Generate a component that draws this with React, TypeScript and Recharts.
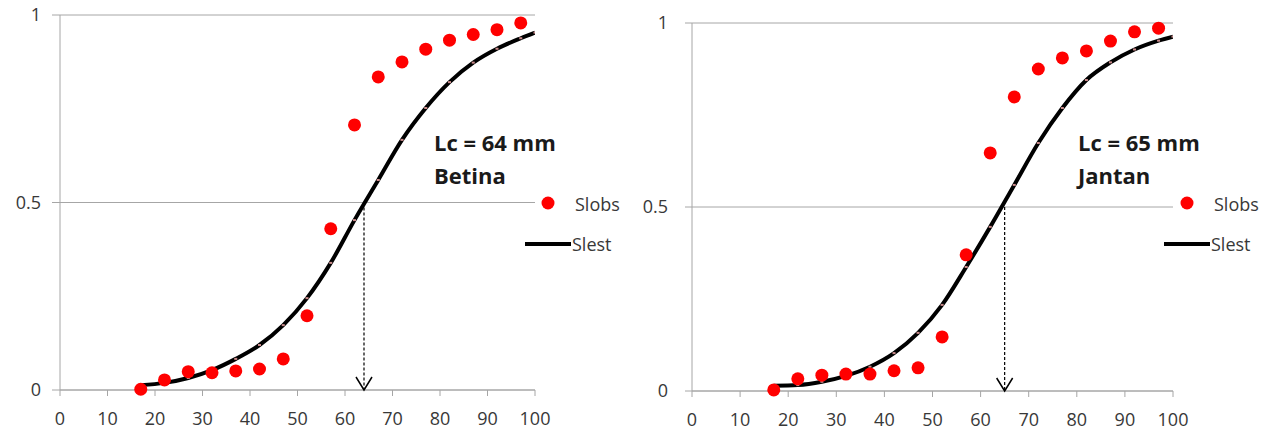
import React from 'react';
import {
  ComposedChart, Line, Scatter, XAxis, YAxis, CartesianGrid, ReferenceLine, ReferenceDot, Legend, Customized,
} from 'recharts';

const xObs = [17, 22, 27, 32, 37, 42, 47, 52, 57, 62, 67, 72, 77, 82, 87, 92, 97];
const xEst = [17, 22, 27, 32, 37, 42, 47, 52, 57, 62, 67, 72, 77, 82, 87, 92, 97, 100];

const betinaObs = [0.002, 0.027, 0.049, 0.046, 0.051, 0.056, 0.083, 0.198, 0.43, 0.707, 0.835, 0.875, 0.909, 0.933, 0.948, 0.961, 0.979];
const betinaEst = [0.013, 0.019, 0.032, 0.053, 0.083, 0.12, 0.173, 0.245, 0.339, 0.453, 0.56, 0.667, 0.752, 0.821, 0.873, 0.91, 0.938, 0.953];

const jantanObs = [0.003, 0.033, 0.043, 0.046, 0.046, 0.055, 0.063, 0.147, 0.37, 0.647, 0.799, 0.875, 0.905, 0.924, 0.951, 0.976, 0.986];
const jantanEst = [0.014, 0.016, 0.025, 0.041, 0.066, 0.103, 0.158, 0.234, 0.337, 0.446, 0.56, 0.674, 0.769, 0.845, 0.893, 0.928, 0.952, 0.963];

const xTicks = [0, 10, 20, 30, 40, 50, 60, 70, 80, 90, 100];
const yTicks = [0, 0.5, 1];

const FONT = '"Open Sans", "DejaVu Sans", sans-serif';
const GRID = '#a6a6a6';
const TXT = '#383838';

const toPts = (xs: number[], ys: number[]) => xs.map((x, i) => ({ x, y: ys[i] }));

function LegendBox() {
  return (
    <svg width={110} height={80} style={{ overflow: 'visible', display: 'block' }}>
      <circle cx={28} cy={18} r={6.5} fill="#ff0000" />
      <text x={55} y={19} dominantBaseline="central" fontSize={18} fill={TXT} fontFamily={FONT}>Slobs</text>
      <line x1={5} x2={51} y1={59} y2={59} stroke="#000" strokeWidth={4} />
      <text x={52} y={59} dominantBaseline="central" fontSize={18} fill={TXT} fontFamily={FONT}>Slest</text>
    </svg>
  );
}

type PanelProps = {
  left: number;
  width: number;
  top: number;
  rightMargin: number;
  xAxisHeight: number;
  yTickSize: number;
  yTickMargin: number;
  obs: number[];
  est: number[];
  lc: number;
  title1: string;
  title2: string;
  textX: number;
  legendLeft: number;
};

function Panel(p: PanelProps) {
  const obsData = toPts(xObs, p.obs);
  const estData = toPts(xEst, p.est);
  return (
    <div style={{ position: 'absolute', left: p.left, top: 0 }}>
      <ComposedChart
        width={p.width}
        height={432}
        margin={{ top: p.top, right: p.rightMargin, bottom: 0, left: 0 }}
        style={{ fontFamily: FONT }}
      >
        <CartesianGrid vertical={false} stroke={GRID} strokeWidth={1} />
        <XAxis
          type="number"
          dataKey="x"
          domain={[0, 100]}
          ticks={xTicks}
          interval={0}
          height={p.xAxisHeight}
          stroke={GRID}
          tickSize={6}
          tickMargin={16}
          tick={{ fill: TXT, fontSize: 18, fontFamily: FONT }}
          allowDataOverflow
        />
        <YAxis
          type="number"
          dataKey="y"
          domain={[0, 1]}
          ticks={yTicks}
          width={60}
          stroke={GRID}
          tickSize={p.yTickSize}
          tickMargin={p.yTickMargin}
          tick={{ fill: TXT, fontSize: 18, fontFamily: FONT }}
        />
        <ReferenceLine
          segment={[{ x: p.lc, y: 0.5 }, { x: p.lc, y: 0 }]}
          stroke="#000"
          strokeWidth={1.2}
          strokeDasharray="3 2"
        />
        <ReferenceDot
          x={p.lc}
          y={0}
          r={0}
          shape={(s: any) => (
            <path
              d={`M${s.cx - 8},${s.cy - 13} L${s.cx},${s.cy} L${s.cx + 8},${s.cy - 13}`}
              stroke="#000"
              strokeWidth={1.5}
              fill="none"
            />
          )}
        />
        <Line
          data={estData}
          dataKey="y"
          type="monotone"
          stroke="#000"
          strokeWidth={4}
          dot={(d: any) => (
            <rect key={`d${d.index}`} x={d.cx - 1.5} y={d.cy - 1} width={3} height={2} fill="#c98a8a" />
          )}
          activeDot={false}
          isAnimationActive={false}
          name="Slest"
        />
        <Scatter
          data={obsData}
          dataKey="y"
          fill="#ff0000"
          shape={(s: any) => <circle cx={s.cx} cy={s.cy} r={6.5} fill="#ff0000" />}
          isAnimationActive={false}
          name="Slobs"
        />
        <Legend
          content={() => <LegendBox />}
          wrapperStyle={{ position: 'absolute', left: p.legendLeft, top: 185, width: 0, height: 0, overflow: 'visible' }}
        />
        <Customized
          component={() => (
            <g fontFamily={FONT} fontWeight="bold" fill="#1a1a1a" fontSize={22}>
              <text x={p.textX} y={151}>{p.title1}</text>
              <text x={p.textX} y={184}>{p.title2}</text>
            </g>
          )}
        />
      </ComposedChart>
    </div>
  );
}

export default function App() {
  return (
    <div style={{ position: 'absolute', left: 0, top: 0, width: 1267, height: 432, background: '#fff' }}>
      <Panel
        left={0}
        width={640}
        top={15}
        rightMargin={105}
        xAxisHeight={42}
        yTickSize={8}
        yTickMargin={11}
        obs={betinaObs}
        est={betinaEst}
        lc={64}
        title1="Lc = 64 mm"
        title2="Betina"
        textX={434}
        legendLeft={520}
      />
      <Panel
        left={632}
        width={635}
        top={23}
        rightMargin={94}
        xAxisHeight={41}
        yTickSize={7}
        yTickMargin={17}
        obs={jantanObs}
        est={jantanEst}
        lc={65}
        title1="Lc = 65 mm"
        title2="Jantan"
        textX={446}
        legendLeft={527}
      />
    </div>
  );
}
